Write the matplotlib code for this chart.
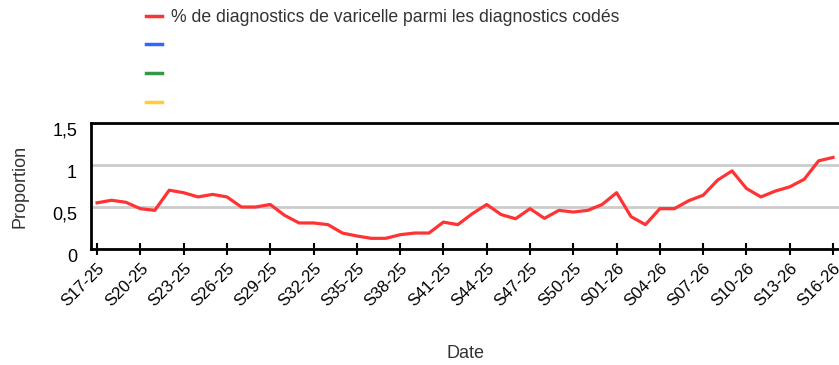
import numpy as np
import matplotlib.pyplot as plt
from matplotlib.lines import Line2D
import matplotlib.transforms as mtransforms

plt.rcParams['font.family'] = ['Liberation Sans', 'DejaVu Sans']

# Semaines S17-25 ... S52-25 puis S01-26 ... S16-26
semaines = ["S%02d-25" % s for s in range(17, 53)] + ["S%02d-26" % s for s in range(1, 17)]

varicelle = [0.55, 0.58, 0.556, 0.48, 0.46, 0.70, 0.67, 0.62, 0.65, 0.62,
             0.50, 0.50, 0.53, 0.40, 0.31, 0.31, 0.29, 0.19, 0.155, 0.127,
             0.127, 0.17, 0.19, 0.19, 0.32, 0.29, 0.42, 0.53, 0.41, 0.36,
             0.48, 0.365, 0.46, 0.44, 0.46, 0.53, 0.67, 0.385, 0.29, 0.48,
             0.48, 0.575, 0.64, 0.82, 0.93, 0.72, 0.62, 0.69, 0.74, 0.83,
             1.05, 1.09]

serie_labels = ["% de diagnostics de varicelle parmi les diagnostics codés", "", "", ""]
serie_couleurs = ["#ff3333", "#3366ff", "#339944", "#ffcc33"]

yticks = [0, 0.5, 1, 1.5]
ytick_labels = ["0", "0,5", "1", "1,5"]

fig = plt.figure(figsize=(8.39, 3.65), dpi=100)
ax = fig.add_axes([91/839, 1 - 249/365, 750/839, 126/365])

x = np.arange(len(semaines))
ax.plot(x, varicelle, color=serie_couleurs[0], lw=2.3, zorder=3)

ax.set_xlim(-0.42, 51.55)
ax.set_ylim(0, 1.5)
ax.set_yticks(yticks)
ax.set_yticklabels(ytick_labels, fontsize=13)
ax.set_xticks(x[::3])
ax.set_xticklabels(semaines[::3], rotation=45, ha="right", rotation_mode="anchor", fontsize=12)
ax.tick_params(axis="x", direction="inout", length=9, width=1.5)
ax.tick_params(axis="y", length=0, pad=10)

# decale les etiquettes de l'axe y vers le bas
decal = mtransforms.ScaledTranslation(0, -6/100, fig.dpi_scale_trans)
for lab in ax.get_yticklabels():
    lab.set_transform(lab.get_transform() + decal)

ax.grid(axis="y", color="#cccccc", lw=2)
ax.set_axisbelow(True)
for s in ["left", "bottom", "top"]:
    ax.spines[s].set_linewidth(2)
ax.spines["right"].set_visible(False)

ax.set_xlabel("Date", fontsize=13, color="#333333", labelpad=26)
ax.set_ylabel("Proportion", fontsize=13, color="#333333", labelpad=17)

handles = [Line2D([], [], color=c, lw=2.5) for c in serie_couleurs]
fig.legend(handles, serie_labels, loc="upper left", bbox_to_anchor=(130/839, 1.0 + 7/365),
           frameon=False, fontsize=12.7, handlelength=0.9, handletextpad=0.55,
           labelspacing=0.66, labelcolor="#333333")

fig.savefig("out.png", dpi=100)
